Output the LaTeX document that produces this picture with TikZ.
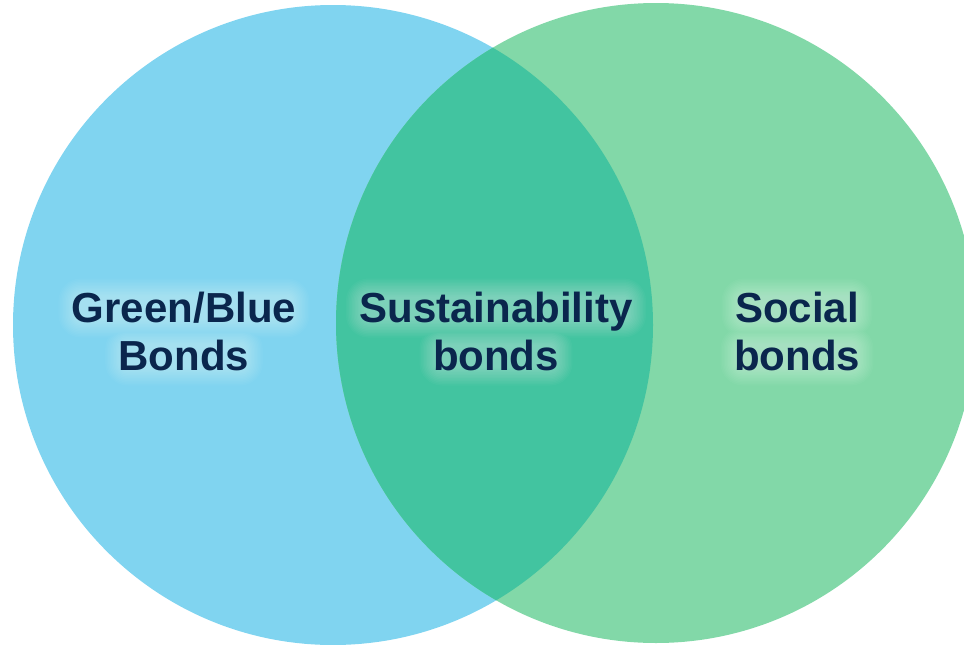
\documentclass[tikz,border=0pt]{standalone}
\usepackage{fontspec}
\setmainfont{Liberation Sans}
\usetikzlibrary{calc}

\definecolor{bluebond}{HTML}{80D4F0}
\definecolor{greenbond}{HTML}{82D8A8}
\definecolor{overlapbond}{HTML}{42C4A0}
\definecolor{navytext}{HTML}{0A264D}

\pgfdeclarelayer{sets}
\pgfdeclarelayer{glow}
\pgfsetlayers{sets,glow,main}

\newcommand\lblfont{\fontsize{42}{48}\selectfont\bfseries}

% line widths, measured before the picture starts
\newlength\wgreena \newlength\wgreenb
\newlength\wsusta  \newlength\wsustb
\newlength\wsoca   \newlength\wsocb

\tikzset{
  lbl/.style={font=\lblfont, align=center, inner sep=0pt, anchor=base,
              text=navytext},
  halo/.style={fill=white, opacity=0.032, rounded corners=#1}
}

% two-line label with a soft white glow behind each line
% #1 position, #2 name, #3/#4 lines, #5/#6 their widths
\newcommand\glowlabel[6]{%
  \node[lbl] (#2) at (#1) {#3\\#4};
  \begin{pgfonlayer}{glow}
    \foreach \k in {-3,...,9}{
      \path[halo=(\k+4)*1.5pt+3pt]
        ($(#2.base)+({-0.5*#5-\k*1.5pt},{46pt-\k*1.5pt})$) rectangle
        ($(#2.base)+({0.5*#5+\k*1.5pt},{78pt+\k*1.5pt})$)
        ($(#2.base)+({-0.5*#6-\k*1.5pt},{-2pt-\k*1.5pt})$) rectangle
        ($(#2.base)+({0.5*#6+\k*1.5pt},{30pt+\k*1.5pt})$);
    }
  \end{pgfonlayer}
}

\begin{document}
\settowidth\wgreena{\lblfont Green/Blue}%
\settowidth\wgreenb{\lblfont Bonds}%
\settowidth\wsusta{\lblfont Sustainability}%
\settowidth\wsustb{\lblfont bonds}%
\settowidth\wsoca{\lblfont Social}%
\settowidth\wsocb{\lblfont bonds}%
\begin{tikzpicture}[x=1pt,y=-1pt]
  \useasboundingbox (0,0) rectangle (964,645);

  \coordinate (cl) at (333,325);
  \coordinate (cr) at (656,323);

  \begin{pgfonlayer}{sets}
    % the two sets
    \fill[bluebond]  (cl) circle[radius=320pt];
    \fill[greenbond] (cr) circle[radius=320pt];
    % their intersection
    \begin{scope}
      \clip (cl) circle[radius=320pt];
      \fill[overlapbond] (cr) circle[radius=320pt];
    \end{scope}
  \end{pgfonlayer}

  \coordinate (pg) at (184,370);
  \coordinate (ps) at (496,370);
  \coordinate (pc) at (797,370);

  \glowlabel{pg}{green}{Green/Blue}{Bonds}{\wgreena}{\wgreenb}
  \glowlabel{ps}{sustain}{Sustainability}{bonds}{\wsusta}{\wsustb}
  \glowlabel{pc}{social}{Social}{bonds}{\wsoca}{\wsocb}
\end{tikzpicture}
\end{document}
